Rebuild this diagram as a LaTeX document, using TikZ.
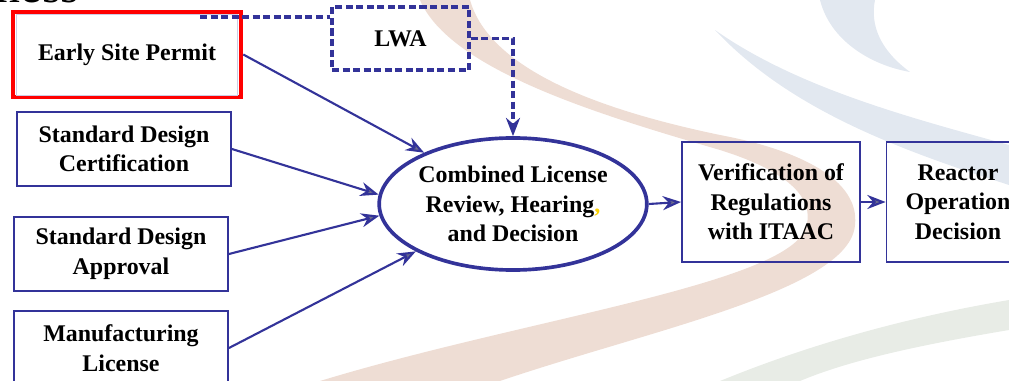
\documentclass[tikz,border=0pt]{standalone}
\usepackage{fontspec}
\setmainfont{Liberation Serif}
\usetikzlibrary{arrows.meta,shapes.geometric}

\definecolor{nrcblue}{RGB}{51,51,153}
\definecolor{tipgray}{RGB}{110,110,140}
\definecolor{swoosh}{RGB}{238,221,212}
\definecolor{swooshblue}{RGB}{226,232,240}
\definecolor{swooshgreen}{RGB}{232,236,230}

\tikzstyle{labeltext} = [font=\fontsize{17}{21}\selectfont\bfseries, align=center]
\tikzstyle{boxdecorate} = [shape=rectangle, draw=nrcblue, line width=1.3pt, labeltext]
\tikzstyle{arrowdecorate} = [draw=nrcblue, line width=1.5pt, -{Stealth[length=13pt,width=10pt,fill=tipgray]}]
\tikzstyle{dashdecorate} = [draw=nrcblue, line width=2.3pt, dash pattern=on 5pt off 2.5pt]

\begin{document}
\begin{tikzpicture}[x=0.025cm, y=-0.025cm]
      \useasboundingbox (0,0) rectangle (1009,381);
      %% background
      \fill[swoosh] (420,0) .. controls (450,70) and (600,115) .. (720,150)
        .. controls (800,175) and (815,205) .. (805,230)
        .. controls (780,285) and (520,320) .. (320,381) -- (500,381)
        .. controls (650,330) and (850,290) .. (855,225)
        .. controls (860,180) and (800,150) .. (720,135)
        .. controls (600,110) and (490,70) .. (470,0) -- cycle;
      \fill[swooshblue] (820,0) .. controls (830,40) and (870,65) .. (910,72)
        .. controls (880,50) and (870,25) .. (875,0) -- cycle;
      \fill[swooshblue] (715,30) .. controls (800,90) and (920,120) .. (1009,145)
        -- (1009,185) .. controls (900,150) and (790,110) .. (715,30) -- cycle;
      \fill[swooshgreen] (720,381) .. controls (820,340) and (920,315) .. (1009,300)
        -- (1009,330) .. controls (920,345) and (850,360) .. (800,381) -- cycle;
      %% title remainder
      \node[anchor=south west, font=\fontsize{34}{34}\selectfont] (title) at (-8,8) {ness};

      %% nodes or vertices
      \node (esp) at (127,54.5) [boxdecorate, draw=red, line width=3.2pt,
        minimum width=5.7cm, minimum height=2.125cm] {Early Site Permit};
      \draw[thin, nrcblue!25] ([shift={(4pt,-3pt)}]esp.north west) rectangle ([shift={(-4pt,3pt)}]esp.south east);

      \foreach \nodename/\x/\y/\txt in {sdc/124/149/{Standard Design\\Certification},
        sda/121/254/{Standard Design\\Approval}, ml/121/348/{Manufacturing\\License}}
      {
        \node (\nodename) at (\x,\y) [boxdecorate, minimum width=5.35cm, minimum height=1.85cm] {\txt};
      }

      \node (lwa) at (400.5,38.5) [boxdecorate, dashdecorate, minimum width=3.425cm,
        minimum height=1.575cm] {LWA};
      \node (col) at (513,204) [labeltext, shape=ellipse, draw=nrcblue, line width=2.6pt,
        inner sep=0pt, minimum width=6.3cm, minimum height=3.3cm]
        {Combined License\\Review, Hearing{\color{yellow!70!orange},}\\and Decision};
      \node (ver) at (771,202) [boxdecorate, minimum width=4.45cm, minimum height=3cm]
        {Verification of\\Regulations\\with ITAAC};
      \node (rod) at (958,202) [boxdecorate, minimum width=3.575cm, minimum height=3cm]
        {Reactor\\Operation\\Decision};

      %% edges or lines
      \foreach \startnode/\angle in {esp/150, sdc/176, sda/185, ml/206}
      {
        \draw[arrowdecorate] (\startnode.east) -- (col.\angle);
      }
      \draw[arrowdecorate] (col.east) -- (ver.west);
      \draw[arrowdecorate] (ver.east) -- (rod.west);

      \coordinate (espjoin) at (200,17);
      \draw[dashdecorate] (espjoin) -- (espjoin -| lwa.west);
      \draw[dashdecorate, -{Stealth[length=13pt,width=10pt,fill=tipgray]}] (lwa.east) -| (col.north);
    \end{tikzpicture}
\end{document}
